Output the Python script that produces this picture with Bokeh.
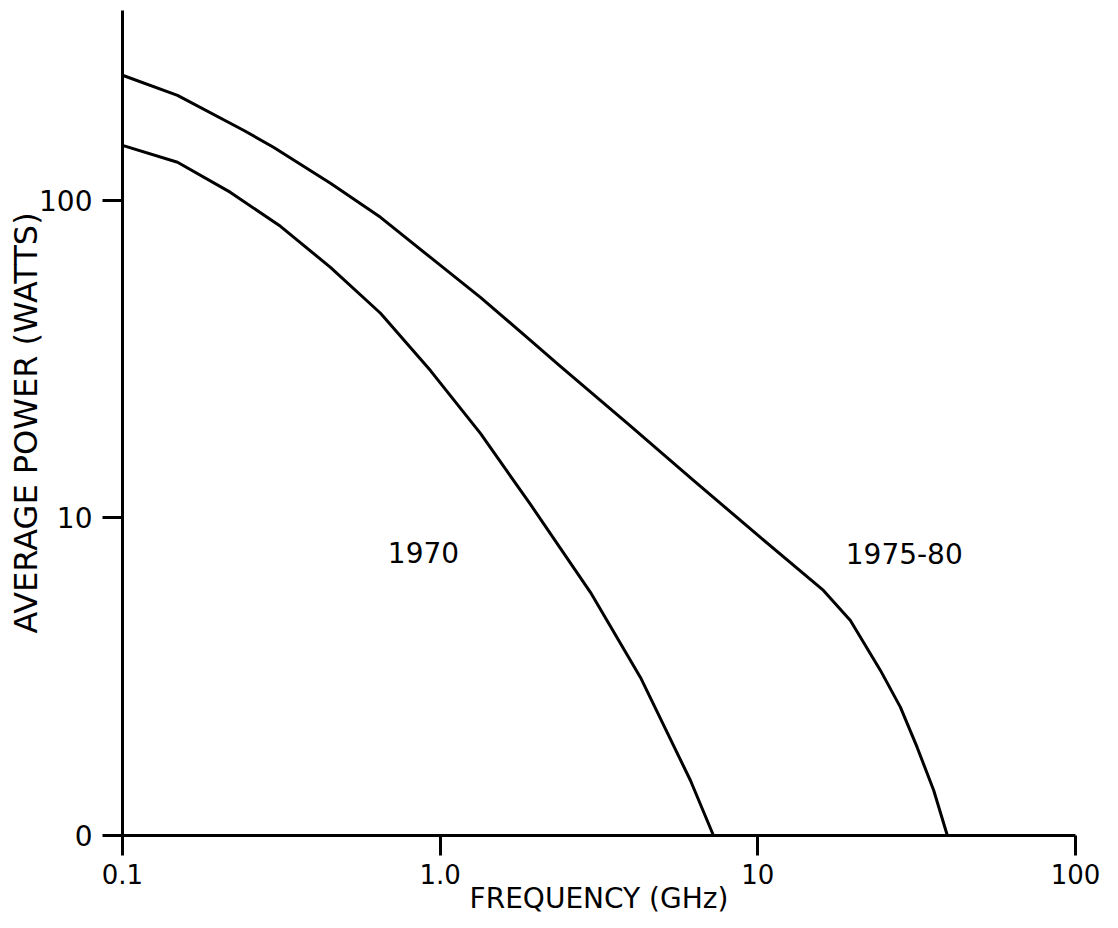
from bokeh.plotting import figure
from bokeh.models import FixedTicker, Label
from bokeh.embed import file_html
from bokeh.resources import INLINE

# ---- data ----
freq_1970 = [0.1, 0.149, 0.2188, 0.3143, 0.4515, 0.649, 0.932, 1.339, 1.924, 2.391,
             2.972, 4.271, 6.137, 7.25]
power_1970 = [149.0, 131.8, 105.9, 82.8, 61.5, 44.1, 29.1, 18.45, 11.03, 8.02,
              5.83, 3.146, 1.49, 1.0]

freq_1975_80 = [0.1, 0.149, 0.2404, 0.2987, 0.4515, 0.649, 0.932, 1.339, 1.924, 2.391,
                3.886, 6.271, 10.19, 16.09, 19.56, 24.32, 28.1, 31.72, 35.79, 39.5]
power_1975_80 = [247.6, 214.1, 166.2, 146.9, 113.1, 88.4, 66.1, 49.5, 36.2, 30.0,
                 19.85, 13.13, 8.68, 5.91, 4.75, 3.31, 2.536, 1.897, 1.386, 1.0]

x_ticks = [0.1, 1, 10, 100]
x_tick_labels = ["0.1", "1.0", "10", "100"]
y_ticks = [1, 10, 100]
y_tick_labels = ["0", "10", "100"]

series_labels = ["1970", "1975-80"]
label_freq = [0.886, 28.9]
label_power = [7.79, 7.73]

FONT = "DejaVu Sans"

p = figure(
    x_axis_type="log", y_axis_type="log",
    x_range=(0.1, 100), y_range=(1, 396),
    frame_width=953, frame_height=825,
    min_border_left=122, min_border_right=33,
    min_border_top=10, min_border_bottom=80,
    output_backend="svg", toolbar_location=None,
    background_fill_color="white", border_fill_color="white",
)
p.outline_line_color = None
p.grid.visible = False

p.line(freq_1970, power_1970, line_color="black", line_width=3, line_join="round")
p.line(freq_1975_80, power_1975_80, line_color="black", line_width=3, line_join="round")

for txt, fx, py in zip(series_labels, label_freq, label_power):
    p.add_layout(Label(x=fx, y=py, text=txt, text_align="center", text_baseline="middle",
                       text_font=FONT, text_font_size="28px", text_color="black"))

for ax in (p.xaxis[0], p.yaxis[0]):
    ax.axis_line_width = 3
    ax.axis_line_color = "black"
    ax.major_tick_line_width = 3
    ax.major_tick_line_color = "black"
    ax.major_tick_in = 0
    ax.major_tick_out = 20
    ax.minor_tick_line_color = None
    ax.major_label_text_font = FONT
    ax.major_label_text_color = "black"
    ax.axis_label_text_font = FONT
    ax.axis_label_text_font_style = "normal"
    ax.axis_label_text_color = "black"

p.xaxis[0].ticker = FixedTicker(ticks=x_ticks)
p.xaxis[0].major_label_overrides = dict(zip(x_ticks, x_tick_labels))
p.xaxis[0].major_label_text_font_size = "26px"
p.xaxis[0].major_label_standoff = 8
p.xaxis[0].axis_label = "FREQUENCY (GHz)"
p.xaxis[0].axis_label_text_font_size = "28px"
p.xaxis[0].axis_label_standoff = -5

p.yaxis[0].ticker = FixedTicker(ticks=y_ticks)
p.yaxis[0].major_label_overrides = dict(zip(y_ticks, y_tick_labels))
p.yaxis[0].major_label_text_font_size = "28px"
p.yaxis[0].major_label_standoff = 10
p.yaxis[0].axis_label = "AVERAGE POWER (WATTS)"
p.yaxis[0].axis_label_text_font_size = "32px"
p.yaxis[0].axis_label_standoff = -9

open("out.html", "w").write(file_html(p, INLINE))
